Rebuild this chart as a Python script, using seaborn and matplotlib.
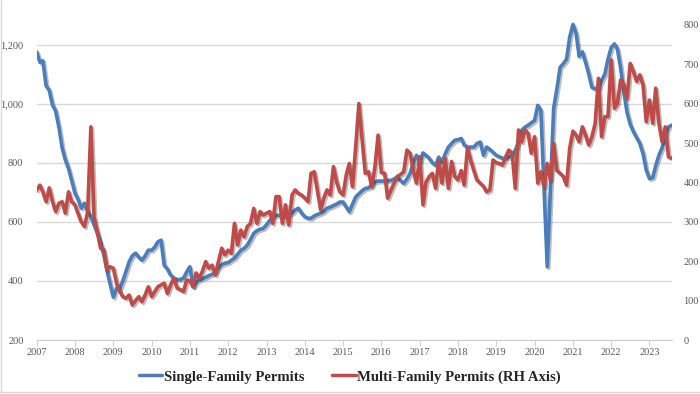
import seaborn as sns
import matplotlib.pyplot as plt
import matplotlib.dates as mdates
import matplotlib.patheffects as pe
from matplotlib.lines import Line2D
from matplotlib.ticker import FuncFormatter
import pandas as pd

# monthly, Jan 2007 - Aug 2023 (thousands, SAAR)
single_family = [
    1175, 1140, 1145, 1060, 1045, 995, 975, 920, 850, 810, 780, 740,   # 2007
    697, 675, 646, 663, 635, 617, 590, 561, 530, 490, 436, 390,        # 2008
    345, 376, 371, 400, 431, 465, 485, 494, 480, 470, 485, 504,        # 2009
    504, 515, 532, 538, 453, 440, 420, 409, 405, 405, 409, 430,        # 2010
    448, 380, 395, 403, 408, 412, 418, 422, 430, 445, 455, 460,        # 2011
    462, 470, 477, 490, 504, 510, 521, 540, 561, 570, 575, 578,        # 2012
    590, 605, 615, 622, 622, 620, 620, 625, 630, 640, 646, 630,        # 2013
    617, 612, 612, 620, 625, 629, 635, 646, 650, 655, 660, 667,        # 2014
    667, 650, 634, 660, 684, 695, 705, 713, 715, 725, 735, 738,        # 2015
    738, 738, 740, 740, 745, 752, 740, 730, 745, 764, 800, 825,        # 2016
    802, 833, 825, 815, 800, 791, 819, 802, 830, 853, 865, 876,        # 2017
    878, 882, 860, 853, 853, 853, 865, 870, 825, 853, 845, 835,        # 2018
    825, 820, 815, 815, 819, 825, 842, 870, 910, 920, 927, 935,        # 2019
    943, 994, 977, 710, 448, 720, 984, 1050, 1123, 1135, 1150, 1225,   # 2020
    1268, 1236, 1160, 1175, 1140, 1100, 1055, 1050, 1050, 1078, 1100, 1150,  # 2021
    1190, 1202, 1185, 1120, 1040, 970, 930, 905, 885, 865, 830, 775,   # 2022
    746, 750, 790, 825, 850, 895, 921, 927,                            # 2023
]

multi_family = [
    381, 393, 376, 351, 386, 351, 326, 347, 351, 322, 376, 351,        # 2007
    343, 320, 300, 288, 326, 541, 313, 275, 233, 230, 178, 186,        # 2008
    182, 144, 125, 110, 106, 114, 89, 100, 110, 97, 115, 135,          # 2009
    110, 123, 135, 140, 144, 118, 140, 157, 132, 128, 123, 152,        # 2010
    150, 135, 170, 157, 175, 199, 182, 190, 165, 200, 233, 216,        # 2011
    228, 220, 296, 241, 279, 262, 288, 296, 334, 296, 326, 317,        # 2012
    322, 326, 296, 364, 364, 296, 343, 292, 368, 381, 372, 368,        # 2013
    360, 351, 423, 427, 380, 330, 360, 381, 368, 440, 400, 376,        # 2014
    368, 420, 448, 389, 490, 600, 510, 423, 427, 389, 440, 520,        # 2015
    425, 423, 360, 380, 398, 415, 420, 427, 482, 474, 430, 398,        # 2016
    465, 343, 400, 415, 423, 385, 457, 398, 461, 385, 453, 415,        # 2017
    406, 430, 393, 487, 457, 430, 406, 398, 390, 376, 381, 457,        # 2018
    450, 448, 444, 465, 482, 474, 385, 533, 503, 533, 524, 474,        # 2019
    516, 398, 427, 389, 448, 406, 499, 430, 423, 415, 393, 487,        # 2020
    530, 520, 503, 541, 520, 495, 516, 550, 664, 516, 567, 567,        # 2021
    711, 588, 600, 660, 647, 613, 702, 681, 656, 673, 647, 554,        # 2022
    609, 550, 639, 550, 503, 541, 465, 461,                            # 2023
]

left_ticks = [200, 400, 600, 800, 1000, 1200]
right_ticks = [0, 100, 200, 300, 400, 500, 600, 700, 800]
labels = ["Single-Family Permits", "Multi-Family Permits (RH Axis)"]

dates = pd.date_range("2007-01-01", periods=len(single_family), freq="MS")
df = pd.DataFrame({"date": dates, "single": single_family, "multi": multi_family})

blue = "#4a7ebb"
red = "#be4b48"
grey = "#595959"

sns.set_style("white")
plt.rcParams["font.family"] = ["Liberation Serif", "DejaVu Serif"]

fig = plt.figure(figsize=(7, 3.94), dpi=100)
ax = fig.add_axes([0.0524, 0.137, 0.9072, 0.810])
ax2 = ax.twinx()

shadow = [pe.SimpleLineShadow(offset=(1.2, -1.2), shadow_color="black", alpha=0.25), pe.Normal()]

sns.lineplot(data=df, x="date", y="single", ax=ax, color=blue, linewidth=2.6)
sns.lineplot(data=df, x="date", y="multi", ax=ax2, color=red, linewidth=2.6)
for l in ax.lines + ax2.lines:
    l.set_path_effects(shadow)
    l.set_solid_joinstyle("round")

ax.set_ylim(200, 1280)
ax2.set_ylim(0, 810)
ax.set_xlim(dates[0], dates[-1])

ax.set_yticks(left_ticks)
ax.yaxis.set_major_formatter(FuncFormatter(lambda v, p: f"{int(v):,}"))
ax2.set_yticks(right_ticks)

ax.xaxis.set_major_locator(mdates.YearLocator())
ax.xaxis.set_major_formatter(mdates.DateFormatter("%Y"))

ax.grid(axis="y", color="#d9d9d9", linewidth=1)
ax.set_xlabel("")
ax.set_ylabel("")
ax2.set_ylabel("")

for s in ["top", "right", "left"]:
    ax.spines[s].set_visible(False)
for s in ["top", "right", "left", "bottom"]:
    ax2.spines[s].set_visible(False)
ax.spines["bottom"].set_color("#d0d0d0")

ax.tick_params(axis="x", bottom=True, length=4, color="#d0d0d0", labelsize=7.5, labelcolor=grey, pad=2)
ax.tick_params(axis="y", left=False, labelsize=7.5, labelcolor=grey, pad=6)
ax2.tick_params(axis="y", right=False, labelsize=7.5, labelcolor=grey, pad=5)

handles = [Line2D([], [], color=blue, linewidth=2.5),
           Line2D([], [], color=red, linewidth=2.5)]
fig.legend(handles, labels,
           loc="center", bbox_to_anchor=(0.5, 0.043), ncol=2, frameon=False,
           prop={"weight": "bold", "size": 10.6}, handlelength=1.6, handletextpad=0.1,
           columnspacing=1.9)

# faint frame on the left and bottom edges of the image
fig.add_artist(Line2D([0.002, 0.002], [0.005, 1.0], color="#d9d9d9", linewidth=1))
fig.add_artist(Line2D([0.0, 1.0], [0.006, 0.006], color="#d9d9d9", linewidth=1))

fig.savefig("out.png", dpi=100)
